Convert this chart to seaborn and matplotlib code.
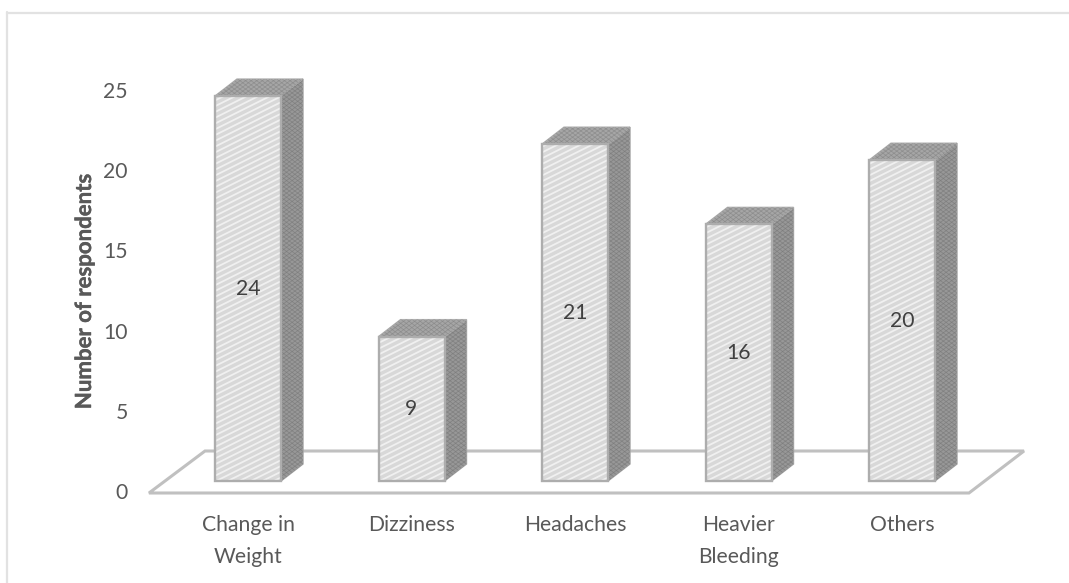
import numpy as np
import pandas as pd
import matplotlib
matplotlib.use("Agg")
import matplotlib.pyplot as plt
import matplotlib.patheffects as pe
import seaborn as sns
from matplotlib.collections import LineCollection
from matplotlib.lines import Line2D
from matplotlib.patches import Polygon, Rectangle
from matplotlib.transforms import ScaledTranslation

categories = ["Change in\nWeight", "Dizziness", "Headaches", "Heavier\nBleeding", "Others"]
respondents = [24, 9, 21, 16, 20]
y_ticks = [0, 5, 10, 15, 20, 25]

W, H, DPI = 1069, 583, 100
TEXT = "#595959"
EDGE = "#adadad"
FONT_SIZE = 15.2

sns.set_theme(style="white")
plt.rcParams["font.family"] = ["Lato", "DejaVu Sans"]

fig = plt.figure(figsize=(W / DPI, H / DPI), dpi=DPI, facecolor="white")

# Axes frame in pixels; one category is 163.5 px wide, one respondent 16.04 px tall
left, right, top, bottom = 149, 1024, 40, 500
ax = fig.add_axes([left / W, 1 - bottom / H, (right - left) / W, (bottom - top) / H])
ax.set_facecolor("none")
px_x, px_y = 163.5, 16.04
base_x, base_y = 248, 481


def to_x(px):
    return (px - base_x) / px_x


def to_y(py):
    return (base_y - py) / px_y


frame = pd.DataFrame({"symptom": categories, "count": respondents})
sns.barplot(data=frame, x="symptom", y="count", ax=ax, color="#d8d8d8", saturation=1,
            width=66 / px_x, edgecolor="none", linewidth=0, zorder=3)
bars = list(ax.patches)
ax.set_xlim(to_x(left), to_x(right))
ax.set_ylim(to_y(bottom), to_y(top))

# Floor of the 3D chart, behind the columns
ax.add_patch(Polygon([(to_x(149), to_y(493)), (to_x(969), to_y(493)),
                      (to_x(1024), to_y(451)), (to_x(205), to_y(451))],
                     closed=True, facecolor="white", edgecolor="#c0c0c0", linewidth=2.2,
                     zorder=1, clip_on=False))

depth_x, depth_y = 22 / px_x, 17 / px_y
for bar in bars:
    x0, w, h = bar.get_x(), bar.get_width(), bar.get_height()
    x1 = x0 + w
    side = Polygon([(x1, 0), (x1 + depth_x, depth_y), (x1 + depth_x, h + depth_y), (x1, h)],
                   closed=True, facecolor="#989898", edgecolor="#a4a4a4", linewidth=1, zorder=2.5)
    cap = Polygon([(x0, h), (x0 + depth_x, h + depth_y), (x1 + depth_x, h + depth_y), (x1, h)],
                  closed=True, facecolor="#a6a6a6", edgecolor="#b0b0b0", linewidth=1, zorder=2.5)
    ax.add_patch(side)
    ax.add_patch(cap)

    # Shallow diagonal stripes across the front face
    run = w * px_x * 0.5 / px_y
    starts = np.arange(-run - 0.5, h + 0.5, 0.36)
    stripes = [[(x0, s), (x1, s + run)] for s in starts]
    lc = LineCollection(stripes, colors="#f0f0f0", linewidths=1.3, zorder=3.2)
    ax.add_collection(lc)
    lc.set_clip_path(bar)
    ax.add_patch(Rectangle((x0, 0), w, h, facecolor="none", edgecolor=EDGE,
                           linewidth=1.7, zorder=3.5))

    # Fine cross texture over the shaded faces
    for face, tone in ((side, "#707070"), (cap, "#7c7c7c")):
        verts = face.get_xy()
        a, b = verts[:, 0].min(), verts[:, 0].max()
        lo, hi = verts[:, 1].min(), verts[:, 1].max()
        span = (b - a) * px_x * 0.75 / px_y
        for sign in (1, -1):
            grid = np.arange(lo - span, hi + span, 0.26)
            segs = [[(a, s), (b, s + sign * span)] for s in grid]
            tex = LineCollection(segs, colors=tone, linewidths=0.6, alpha=0.5, zorder=2.7)
            ax.add_collection(tex)
            tex.set_clip_path(face)

    ax.text(x0 + w / 2, h / 2, f"{int(h)}", ha="center", va="center",
            fontsize=FONT_SIZE, color="#404040", zorder=5)

for spine in ax.spines.values():
    spine.set_visible(False)
ax.grid(False)

ax.set_xlabel("")
ax.set_ylabel("Number of respondents", fontsize=16, fontweight="bold", color=TEXT,
              labelpad=0,
              path_effects=[pe.withStroke(linewidth=0.3, foreground=TEXT)])
ax.yaxis.set_label_coords((95 - left) / (right - left), (bottom - 291) / (bottom - top))

ax.set_yticks(y_ticks)
ax.set_yticklabels([str(v) for v in y_ticks])
ax.tick_params(axis="y", length=0, pad=21 * 72 / DPI, labelsize=FONT_SIZE, labelcolor=TEXT)
ax.tick_params(axis="x", length=0, pad=15 * 72 / DPI, labelsize=FONT_SIZE, labelcolor=TEXT)
# Tick labels sit on the front edge of the floor, below the column bases
shift = ScaledTranslation(0, -10 / DPI, fig.dpi_scale_trans)
for label in ax.get_yticklabels():
    label.set_transform(label.get_transform() + shift)
for label in ax.get_xticklabels():
    label.set_linespacing(1.72)

# Chart area outline, open on the right and bottom
for xs, ys in (((7, 7), (12, 583)), ((7, 1069), (12.5, 12.5))):
    fig.add_artist(Line2D([x / W for x in xs], [1 - y / H for y in ys],
                          color="#e2e2e2", linewidth=1.6))

fig.savefig("out.png", dpi=DPI, facecolor="white")
